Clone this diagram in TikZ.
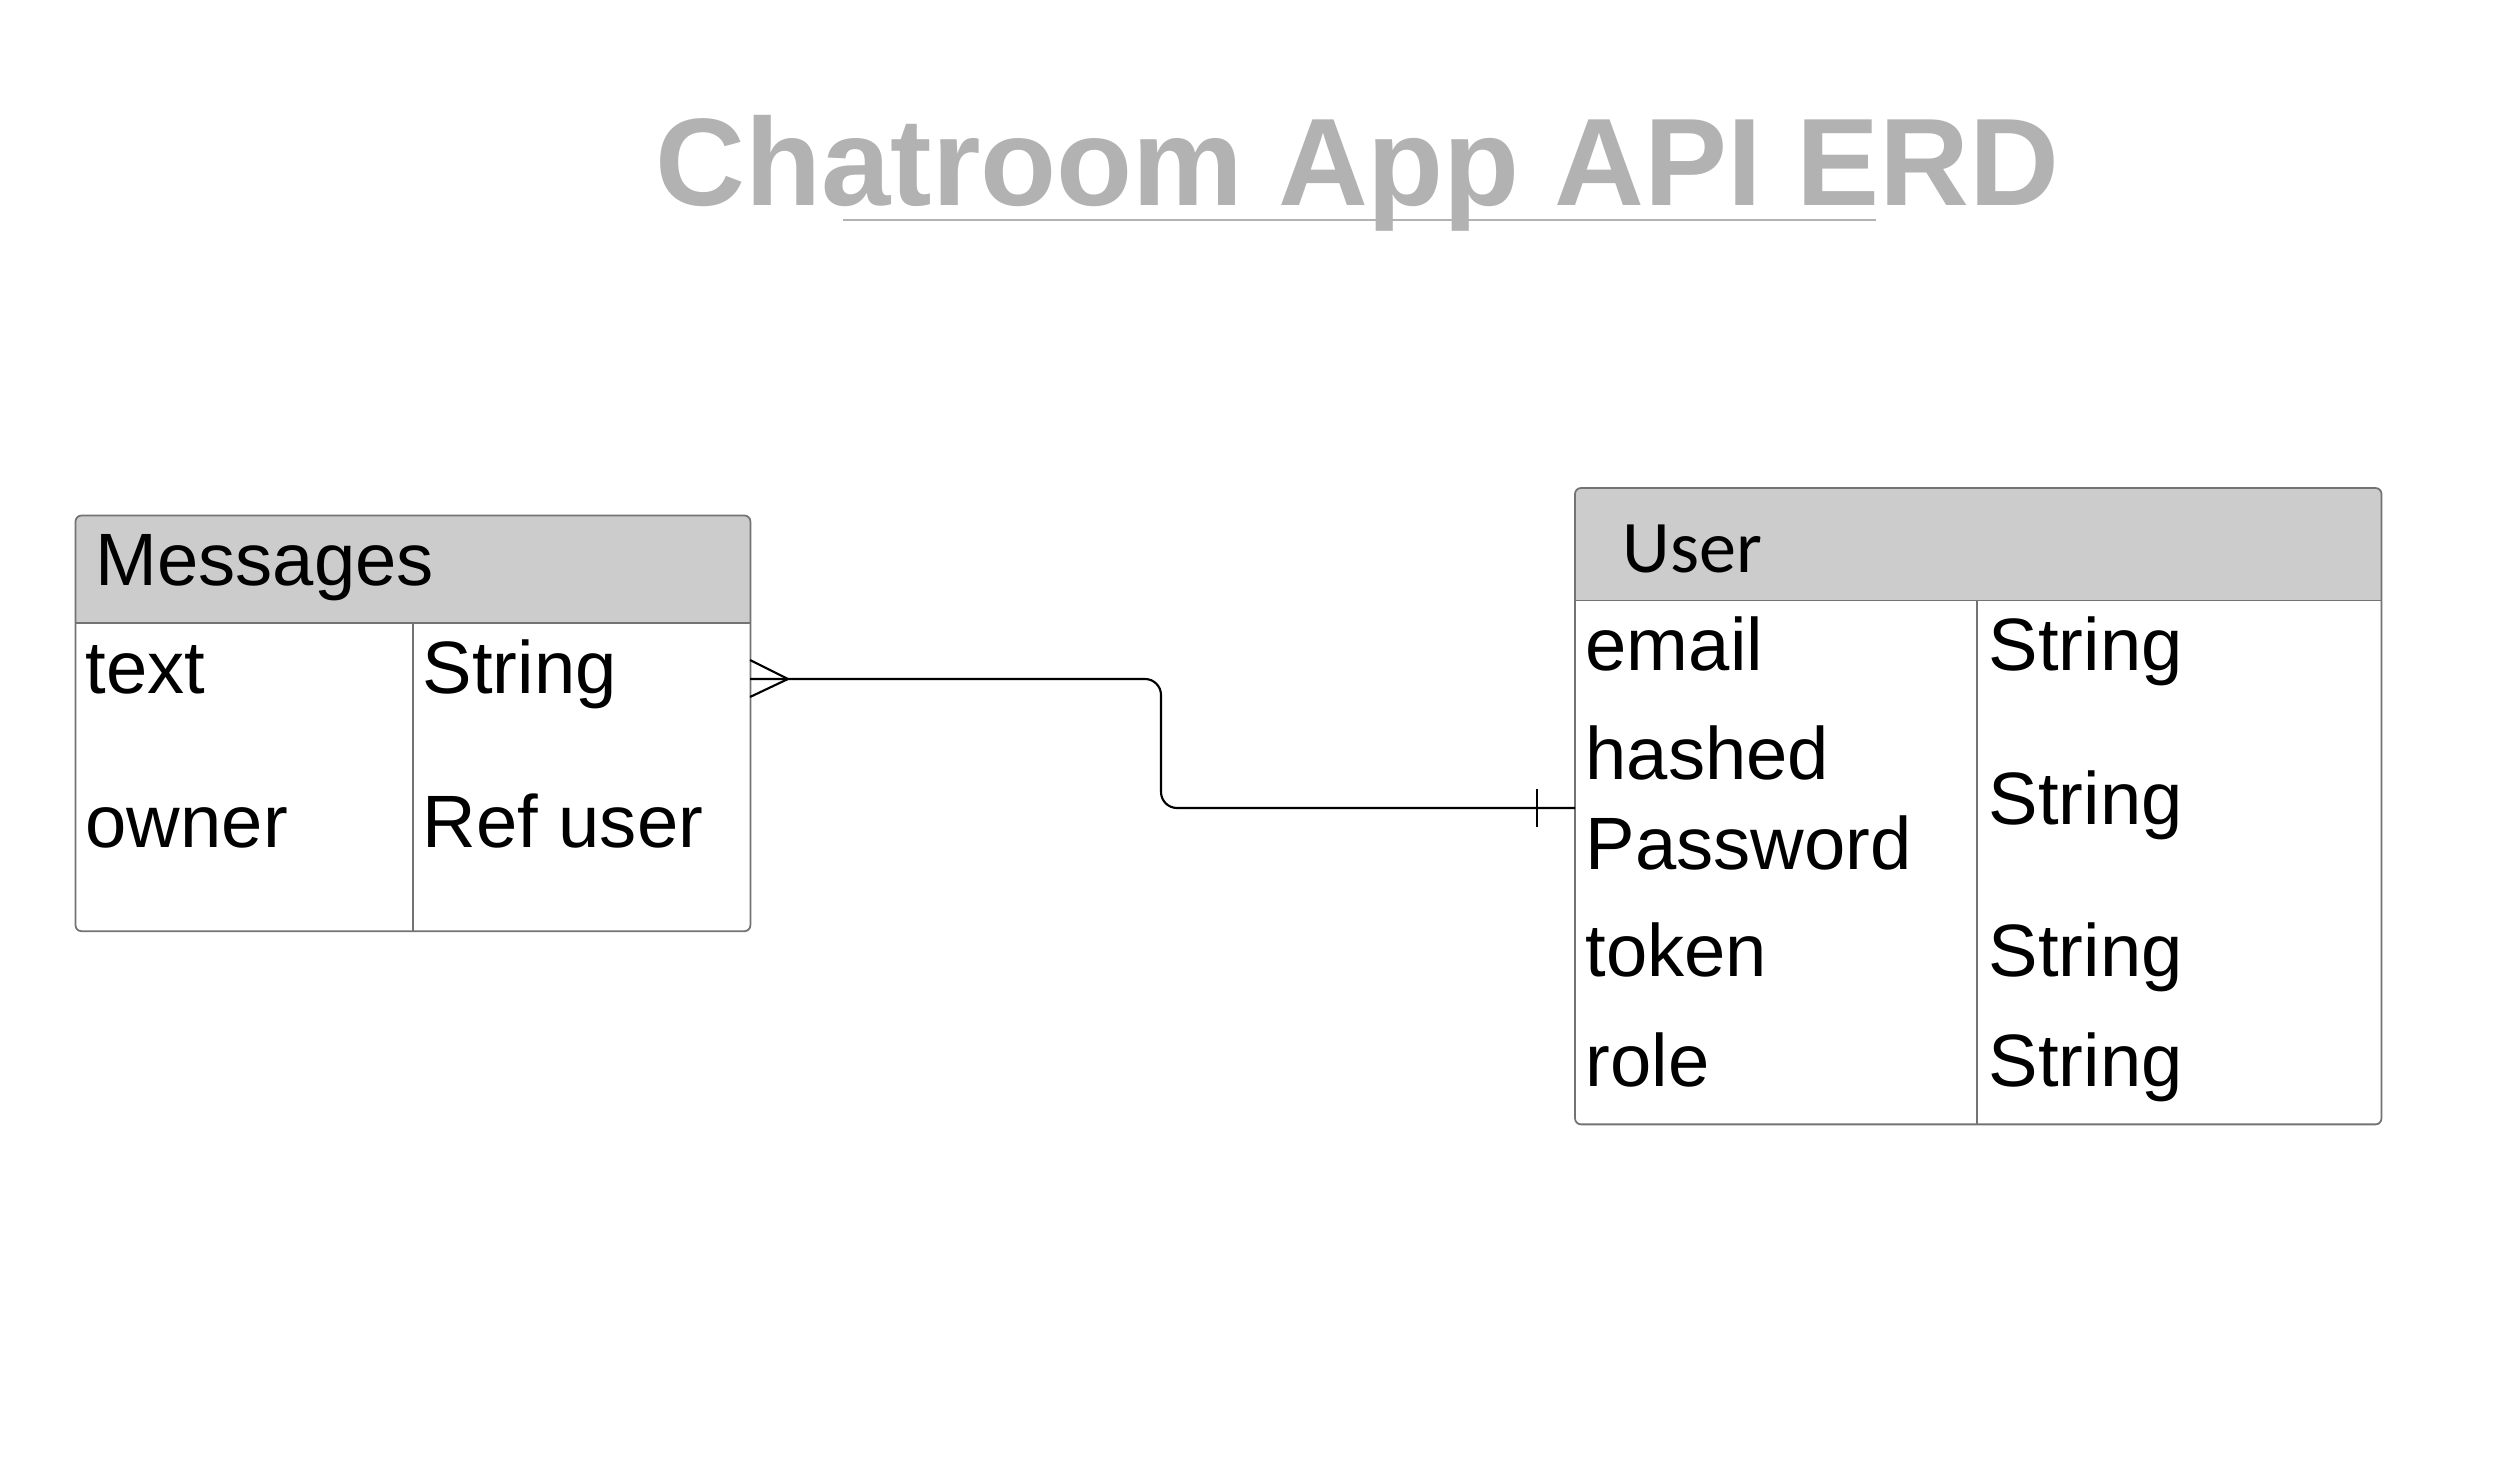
\documentclass[tikz,border=0pt]{standalone}
\usepackage{fontspec}
\setmainfont{Liberation Sans}
\newfontfamily\hdrfont{Carlito}
\begin{document}
\begin{tikzpicture}[x=0.01cm,y=-0.01cm,
  ebox/.style={draw=black!55, line width=0.5pt, rounded corners=0.06cm, inner sep=0pt, outer sep=0pt, anchor=north west},
  hdr/.style={fill=black!20},
  sep/.style={draw=black!55, line width=0.5pt},
  lbl/.style={anchor=base west, inner sep=0pt, font=\fontsize{21.1}{25}\selectfont},
  conn/.style={draw=black, line width=0.6pt}]
\useasboundingbox[fill=white] (0,0) rectangle (2518,1461);
% title
\node (title) [anchor=base west, inner sep=0pt, text=black!30, font=\fontsize{35.4}{40}\selectfont\bfseries] at (655,206) {Chatroom App API ERD};
\coordinate (ul1) at (843,220);
\coordinate (ul2) at (1876,220);
\draw[black!30, line width=0.8pt] (ul1) -- (ul2);
% Messages entity
\begin{scope}
\clip[rounded corners=0.06cm] (75.5,515.5) rectangle (750,931);
\fill[hdr] (75.5,515.5) rectangle (750,623);
\end{scope}
\node (msg) [ebox, minimum width=6.745cm, minimum height=4.155cm] at (75.5,515.5) {};
\draw[sep] (75.5,623) -- (750,623);
\draw[sep] (413,623) -- (413,931);
\node (mh) [lbl] at (95,585) {Messages};
\node (m1a) [lbl] at (85,693) {text};
\node (m1b) [lbl] at (422,693) {String};
\node (m2a) [lbl] at (85,847) {owner};
\node (m2b) [lbl] at (422,847) {Ref user};
% User entity
\begin{scope}
\clip[rounded corners=0.06cm] (1575,488) rectangle (2381,1124);
\fill[hdr] (1575,488) rectangle (2381,600.5);
\end{scope}
\node (usr) [ebox, minimum width=8.06cm, minimum height=6.36cm] at (1575,488) {};
\draw[sep] (1575,600.5) -- (2381,600.5);
\draw[sep] (1977,600.5) -- (1977,1124);
\node (uh) [lbl, font=\hdrfont\fontsize{21.1}{25}\selectfont] at (1622,572) {User};
\node (u1a) [lbl] at (1585,670) {email};
\node (u1b) [lbl] at (1988,670) {String};
\node (u2a) [lbl] at (1585,779) {hashed};
\node (u2c) [lbl] at (1585,869) {Password};
\node (u2b) [lbl] at (1988,824) {String};
\node (u3a) [lbl] at (1585,976) {token};
\node (u3b) [lbl] at (1988,976) {String};
\node (u4a) [lbl] at (1585,1086) {role};
\node (u4b) [lbl] at (1988,1086) {String};
% connector
\coordinate (mE) at (750,679);
\coordinate (uW) at (1575,808);
\draw[conn, rounded corners=0.16cm] (mE) -- (1161,679) -- (1161,808) -- (uW);
% crow's foot (many) at Messages
\draw[conn] (750,660) -- (788,679) -- (750,697);
% one bar at User
\draw[conn] (1537,789) -- (1537,827);
\end{tikzpicture}
\end{document}
